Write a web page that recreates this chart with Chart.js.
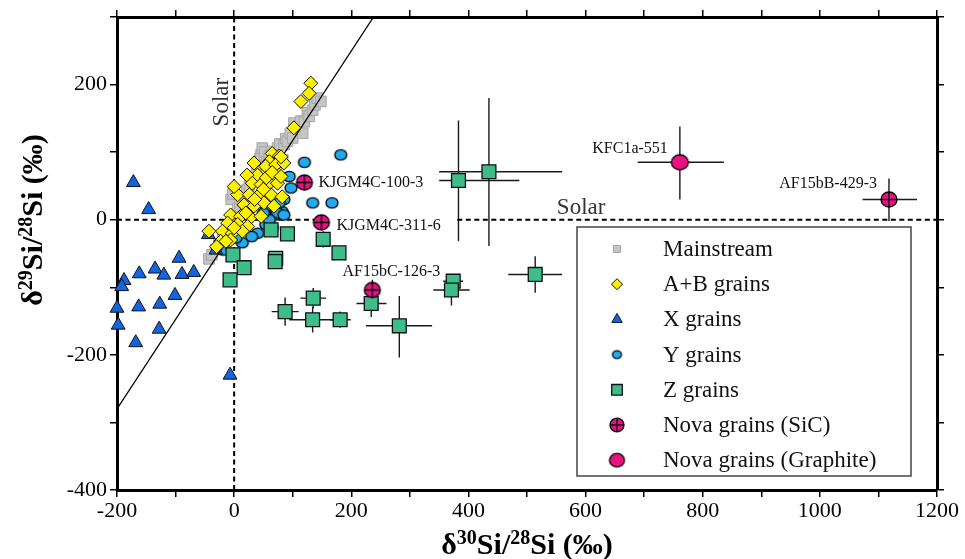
<!DOCTYPE html>
<html>
<head>
<meta charset="utf-8">
<script src="https://cdn.jsdelivr.net/npm/chart.js@4.4.1/dist/chart.umd.min.js"></script>
<style>
  html, body { margin: 0; padding: 0; background: #fff; }
  canvas { display: block; }
</style>
</head>
<body>
<canvas id="chart" width="965" height="559"></canvas>
<script>
// ---- data (d30Si, d29Si) in permil ----
const mainstream = [
  [-43,-58],[-38,-52],[-32,-44],[-26,-36],[-20,-30],[-14,-22],[-10,-14],[-6,-6],[-3,2],[-5,30],
  [-2,38],[2,8],[6,16],[10,20],[14,28],[18,36],[22,44],[26,50],[30,58],[34,64],
  [38,72],[40,82],[44,90],[46,96],[48,106],[52,100],[56,86],[60,94],[65,101],[70,92],
  [74,106],[78,112],[83,89],[85,111],[88,120],[91,116],[96,128],[100,121],[102,143],[108,136],
  [114,146],[117,128],[120,145],[125,158],[128,153],[134,162],[138,170],[142,180],[148,175]
];
const abGrains = [
  [131,202],[128,187],[114,175],[102,136],[65,98],[34,84],[77,94],[82,86],[60,86],[54,79],
  [71,81],[85,84],[77,66],[40,66],[22,66],[31,54],[46,52],[60,54],[74,54],[6,37],
  [26,37],[43,37],[63,37],[82,34],[0,49],[17,22],[34,20],[51,25],[68,20],[-6,7],
  [11,5],[28,3],[46,5],[-11,-5],[6,-7],[23,-10],[-20,-17],[-3,-20],[14,-17],[-23,-32],
  [-6,-30],[-43,-17],[-30,-40],[-14,-32],[0,-12],[20,10],[35,30],[50,45],[55,62],[65,70],
  [80,64],[80,93]
];
const xGrains = [
  [-172,55],[-146,15],[-44,-22],[-31,-45],[-94,-57],[-162,-80],[-135,-73],[-120,-82],[-89,-81],[-69,-78],
  [-188,-90],[-192,-99],[-101,-112],[-163,-129],[-127,-125],[-200,-131],[-198,-156],[-128,-162],[-168,-182],[-7,-230]
];
const yGrains = [
  [182,96],[120,85],[94,64],[97,47],[134,25],[167,25],[85,30],[68,17],[82,12],[71,7],
  [74,10],[85,7],[65,-12],[54,-7],[14,-34],[3,-27],[-18,-45],[55,20],[60,0],[40,-20],
  [30,-25],[77,25],[50,10]
];
const zGrains = [
  [383,58],[435,71],[514,-81],[374,-91],[371,-104],[282,-157],[234,-124],[179,-49],[152,-29],[91,-21],
  [63,-15],[71,-57],[70,-62],[135,-116],[87,-136],[134,-148],[181,-148],[-2,-52],[17,-71],[-7,-89]
];
// error bars: [minus, plus]
const zErrX = [
  [33,104],[85,125],[46,46],[17,17],[31,31],[57,56],[25,26],[0,0],[0,0],[8,8],
  [8,8],[0,0],[0,0],[22,22],[23,23],[40,37],[18,18],[0,0],[0,0],[0,0]
];
const zErrY = [
  [90,89],[110,109],[27,27],[8,8],[23,23],[47,44],[20,20],[0,0],[12,12],[10,10],
  [8,8],[6,6],[0,0],[15,15],[21,21],[19,19],[12,12],[0,0],[0,0],[0,0]
];
const novaSiC = [[120,55],[149,-4],[236,-104],[1118,30]];
const novaSiCErrX = [[0,0],[0,0],[12,12],[45,48]];
const novaSiCErrY = [[0,0],[10,10],[15,15],[32,31]];
const novaSiCNames = ['KJGM4C-100-3','KJGM4C-311-6','AF15bC-126-3','AF15bB-429-3'];
const novaGraphite = [[761,85]];
const novaGraphiteErrX = [[72,75]];
const novaGraphiteErrY = [[55,53]];
const novaGraphiteNames = ['KFC1a-551'];
const mainLine = [[-200,-280],[238,300]];
const solarV = [[0,-400],[0,300]];
const solarH1 = [[-200,0],[150,0]];
const solarH2 = [[381,0],[1200,0]];

const SERIF = "'Liberation Serif', 'Times New Roman', serif";
const MAGENTA = '#ea1283';
const pairs = arr => arr.map(p => ({x: p[0], y: p[1]}));

function ellipseMarker(rx, ry, fill, cross) {
  const c = document.createElement('canvas');
  c.width = Math.ceil(2 * rx + 4); c.height = Math.ceil(2 * ry + 4);
  const g = c.getContext('2d');
  g.translate(c.width / 2, c.height / 2);
  g.beginPath(); g.ellipse(0, 0, rx, ry, 0, 0, 2 * Math.PI);
  g.fillStyle = fill; g.fill();
  g.lineWidth = 1.3; g.strokeStyle = '#000'; g.stroke();
  if (cross) {
    g.beginPath(); g.moveTo(-rx, 0); g.lineTo(rx, 0); g.moveTo(0, -ry); g.lineTo(0, ry); g.stroke();
  }
  return c;
}
const yMark = ellipseMarker(6, 5.2, '#22aaec', false);
const sicMark = ellipseMarker(8, 7.5, MAGENTA, true);
const graMark = ellipseMarker(8.5, 7.5, MAGENTA, false);

function pts(label, data, style, radius, bg, border, bw, order) {
  return { label, data: pairs(data), pointStyle: style, pointRadius: radius, backgroundColor: bg,
    borderColor: border, borderWidth: bw, order, clip: false };
}
function line(data, dash, width, order) {
  return { type: 'line', data: pairs(data), showLine: true, pointRadius: 0, borderColor: '#000',
    borderWidth: width, borderDash: dash, order, fill: false };
}

const datasets = [
  Object.assign(pts('Nova grains (Graphite)', novaGraphite, graMark, 8, MAGENTA, '#000', 1, 0),
    {errX: novaGraphiteErrX, errY: novaGraphiteErrY, names: novaGraphiteNames}),
  Object.assign(pts('Nova grains (SiC)', novaSiC, sicMark, 8, MAGENTA, '#000', 1, 1),
    {errX: novaSiCErrX, errY: novaSiCErrY, names: novaSiCNames}),
  Object.assign(pts('Z grains', zGrains, 'rect', 9.8, '#3dbd8a', '#111', 1.3, 2),
    {errX: zErrX, errY: zErrY}),
  pts('A+B grains', abGrains, 'rectRot', 7, '#fff000', '#111', 1, 3),
  line(mainLine, [], 1.3, 4),
  pts('X grains', xGrains, 'triangle', 8, '#1264e0', '#111', 1, 5),
  pts('Y grains', yGrains, yMark, 6, '#22aaec', '#111', 1, 6),
  pts('Mainstream', mainstream, 'rect', 7.5, '#c4c4c4', '#a6a6a6', 1, 7),
  line(solarV, [5, 3.5], 2, 8),
  line(solarH1, [5, 3.5], 2, 8),
  line(solarH2, [5, 3.5], 2, 8)
];

const errorBars = {
  id: 'errorBars',
  beforeDatasetsDraw(chart) {
    const {ctx, scales: {x, y}} = chart;
    ctx.save();
    ctx.strokeStyle = '#1a1a1a';
    ctx.lineWidth = 1.4;
    chart.data.datasets.forEach(ds => {
      if (!ds.errX) return;
      ds.data.forEach((p, i) => {
        const ex = ds.errX[i], ey = ds.errY[i];
        const px = x.getPixelForValue(p.x), py = y.getPixelForValue(p.y);
        ctx.beginPath();
        if (ex[0] || ex[1]) {
          ctx.moveTo(x.getPixelForValue(p.x - ex[0]), py);
          ctx.lineTo(x.getPixelForValue(p.x + ex[1]), py);
        }
        if (ey[0] || ey[1]) {
          ctx.moveTo(px, y.getPixelForValue(p.y - ey[0]));
          ctx.lineTo(px, y.getPixelForValue(p.y + ey[1]));
        }
        ctx.stroke();
      });
    });
    ctx.restore();
  }
};

// text with superscripts: parts = [[text, isSup], ...]
function richText(ctx, parts, cx, base, size) {
  const big = 'bold ' + size + 'px ' + SERIF, small = 'bold ' + Math.round(size * 0.68) + 'px ' + SERIF;
  let w = 0;
  parts.forEach(([t, sup]) => { ctx.font = sup ? small : big; w += ctx.measureText(t).width; });
  let xx = cx - w / 2;
  parts.forEach(([t, sup]) => {
    ctx.font = sup ? small : big;
    ctx.fillText(t, xx, sup ? base - size * 0.33 : base);
    xx += ctx.measureText(t).width;
  });
}

const annotations = {
  id: 'annotations',
  afterDraw(chart) {
    const {ctx, scales: {x, y}} = chart;
    ctx.save();
    ctx.fillStyle = '#111';
    ctx.textBaseline = 'middle';
    ctx.font = '16px ' + SERIF;
    // labels for the nova grains
    const sic = datasets[1], gra = datasets[0];
    const offs = [[14, 0, 'left'], [15, 3, 'left'], [19, -18, 'center'], [-12, -16, 'right']];
    sic.data.forEach((p, i) => {
      ctx.textAlign = offs[i][2];
      ctx.fillText(sic.names[i], x.getPixelForValue(p.x) + offs[i][0], y.getPixelForValue(p.y) + offs[i][1]);
    });
    ctx.textAlign = 'right';
    ctx.fillText(gra.names[0], x.getPixelForValue(gra.data[0].x) - 12, y.getPixelForValue(gra.data[0].y) - 13);

    // Solar labels
    ctx.fillStyle = '#333';
    ctx.font = '23px ' + SERIF;
    ctx.textBaseline = 'alphabetic';
    ctx.textAlign = 'left';
    ctx.fillText('Solar', x.getPixelForValue(551), y.getPixelForValue(0) - 6);
    ctx.save();
    ctx.translate(x.getPixelForValue(0) - 6, y.getPixelForValue(174));
    ctx.rotate(-Math.PI / 2);
    ctx.textAlign = 'center';
    ctx.fillText('Solar', 0, 0);
    ctx.restore();

    // legend
    const lx = 577, ly = 227, lw = 334, lh = 249;
    ctx.fillStyle = '#fff';
    ctx.fillRect(lx, ly, lw, lh);
    ctx.strokeStyle = '#444';
    ctx.lineWidth = 1.5;
    ctx.strokeRect(lx, ly, lw, lh);
    const legendOrder = [7, 3, 5, 6, 2, 1, 0];
    const legendRadius = [5, 5.5, 6, 0, 7.5, 0, 0];
    ctx.font = '23px ' + SERIF;
    ctx.textBaseline = 'middle';
    ctx.textAlign = 'left';
    legendOrder.forEach((di, k) => {
      const ds = datasets[di];
      const cy = ly + 22 + k * 35.2;
      ctx.save();
      ctx.fillStyle = ds.backgroundColor;
      ctx.strokeStyle = ds.borderColor;
      ctx.lineWidth = ds.borderWidth;
      let style = ds.pointStyle;
      if (di === 6) style = ellipseMarker(4.5, 3.8, '#22aaec', false);
      if (di === 1) style = ellipseMarker(7, 6.8, MAGENTA, true);
      if (di === 0) style = ellipseMarker(7.5, 6.8, MAGENTA, false);
      Chart.helpers.drawPoint(ctx, {pointStyle: style, radius: legendRadius[k] || 6, rotation: 0, borderWidth: ds.borderWidth}, 617, cy);
      ctx.restore();
      ctx.fillStyle = '#111';
      ctx.fillText(ds.label, 663, cy + 1);
    });

    // axis titles
    ctx.fillStyle = '#000';
    ctx.textAlign = 'left';
    ctx.textBaseline = 'alphabetic';
    richText(ctx, [['\u03B4', 0], ['30', 1], ['Si/', 0], ['28', 1], ['Si (\u2030)', 0]], 527, 554, 30);
    ctx.save();
    ctx.translate(42, 220);
    ctx.rotate(-Math.PI / 2);
    richText(ctx, [['\u03B4', 0], ['29', 1], ['Si/', 0], ['28', 1], ['Si (\u2030)', 0]], 0, 0, 30);
    ctx.restore();
    ctx.restore();
  }
};

const tickFont = {family: SERIF, size: 22};
const gridOpts = {drawOnChartArea: false, drawTicks: true, tickLength: 7, color: '#000', lineWidth: 1.5};
const borderOpts = {display: true, width: 3, color: '#000'};
const label200 = v => (v % 200 === 0 ? v : '');

new Chart(document.getElementById('chart'), {
  type: 'scatter',
  data: {datasets},
  options: {
    responsive: false,
    animation: false,
    layout: {padding: 0},
    plugins: {legend: {display: false}, tooltip: {enabled: false}},
    scales: {
      x: {type: 'linear', position: 'bottom', min: -200, max: 1200,
        afterFit: s => { s.height = 69; },
        ticks: {stepSize: 100, callback: label200, font: tickFont, color: '#000', padding: 1, maxRotation: 0, autoSkip: false},
        grid: gridOpts, border: borderOpts},
      x2: {type: 'linear', axis: 'x', position: 'top', min: -200, max: 1200,
        afterFit: s => { s.height = 17; },
        ticks: {stepSize: 100, display: false},
        grid: gridOpts, border: borderOpts},
      y: {type: 'linear', position: 'left', min: -400, max: 300,
        afterFit: s => { s.width = 117; },
        ticks: {stepSize: 100, callback: label200, font: tickFont, color: '#000', padding: 3, autoSkip: false},
        grid: gridOpts, border: borderOpts},
      y2: {type: 'linear', axis: 'y', position: 'right', min: -400, max: 300,
        afterFit: s => { s.width = 28; },
        ticks: {stepSize: 100, display: false},
        grid: gridOpts, border: borderOpts}
    }
  },
  plugins: [errorBars, annotations]
});
</script>
</body>
</html>
